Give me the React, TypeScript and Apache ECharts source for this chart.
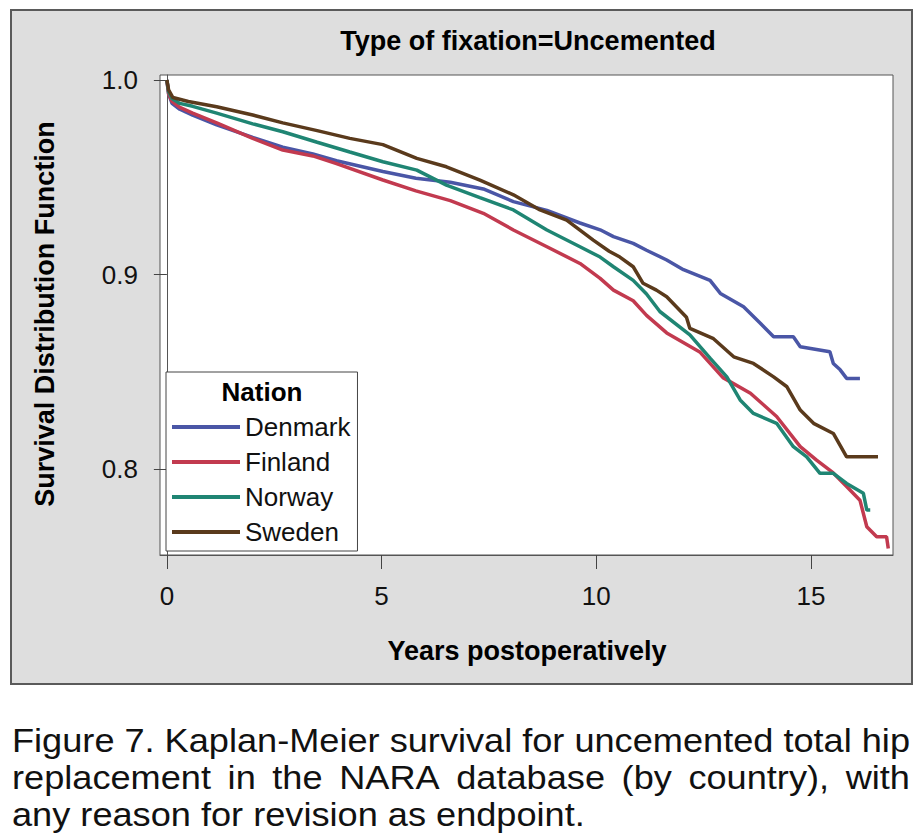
import React, { useEffect, useRef } from "react";
import * as echarts from "echarts";

const FONT = "'Liberation Sans', Arial, Helvetica, sans-serif";

const chartTitle = "Type of fixation=Uncemented";
const xAxisTitle = "Years postoperatively";
const yAxisTitle = "Survival Distribution Function";
const legendTitle = "Nation";
const nations = ["Denmark", "Finland", "Norway", "Sweden"];
const nationColors = ["#4a56a6", "#c23a4f", "#1f8573", "#5a3a1c"];
const xTicks = [0, 5, 10, 15];
const yTicks = [0.8, 0.9, 1.0];
const captionLines = [
  "Figure 7. Kaplan-Meier survival for uncemented total hip",
  "replacement in the NARA database (by country), with",
  "any reason for revision as endpoint.",
];

// [years, survival]
const denmark = [
  [0, 1.0], [0.04, 0.993], [0.12, 0.988], [0.3, 0.985], [0.6, 0.982], [1.16, 0.977],
  [2.0, 0.9705], [2.7, 0.9655], [3.4, 0.962], [3.95, 0.9585], [5.03, 0.953], [5.8, 0.9495],
  [6.6, 0.9475], [7.37, 0.944], [8.07, 0.9375], [8.85, 0.933], [9.62, 0.9265], [10.09, 0.923],
  [10.4, 0.9195], [10.86, 0.916], [11.17, 0.9125], [11.64, 0.9075], [12.03, 0.9025], [12.65, 0.897],
  [12.89, 0.8903], [13.43, 0.8834], [13.82, 0.875], [14.13, 0.868], [14.59, 0.868], [14.75, 0.8629],
  [15.44, 0.8603], [15.52, 0.8543], [15.68, 0.851], [15.83, 0.8466], [16.14, 0.8466],
];
const finland = [
  [0, 1.0], [0.04, 0.993], [0.12, 0.989], [0.3, 0.986], [0.6, 0.983], [1.16, 0.978],
  [2.0, 0.97], [2.7, 0.964], [3.4, 0.961], [3.95, 0.957], [5.03, 0.9486], [5.8, 0.943],
  [6.6, 0.938], [7.37, 0.9315], [8.07, 0.9229], [8.85, 0.9143], [9.62, 0.9057], [10.09, 0.898],
  [10.4, 0.892], [10.86, 0.8865], [11.17, 0.879], [11.64, 0.87], [12.42, 0.86], [12.95, 0.847],
  [13.59, 0.839], [14.2, 0.827], [14.75, 0.8115], [15.13, 0.8046], [15.52, 0.798], [15.83, 0.791],
  [16.14, 0.784], [16.3, 0.7703], [16.53, 0.7652], [16.76, 0.7652], [16.8, 0.7592],
];
const norway = [
  [0, 1.0], [0.04, 0.994], [0.12, 0.9905], [0.3, 0.988], [0.6, 0.9865], [1.16, 0.983],
  [2.0, 0.9775], [2.7, 0.9734], [3.5, 0.968], [4.26, 0.963], [5.03, 0.958], [5.82, 0.9537],
  [6.51, 0.946], [7.29, 0.9395], [8.07, 0.9332], [8.85, 0.9229], [9.62, 0.9143], [10.09, 0.909],
  [10.4, 0.904], [10.86, 0.897], [11.17, 0.89], [11.48, 0.881], [12.18, 0.869], [12.65, 0.857],
  [13.04, 0.8474], [13.35, 0.8355], [13.66, 0.8286], [14.2, 0.8235], [14.59, 0.8115], [14.9, 0.8063],
  [15.21, 0.7978], [15.52, 0.7978], [15.83, 0.7926], [16.22, 0.7875], [16.3, 0.7789], [16.38, 0.7789],
];
const sweden = [
  [0, 1.0], [0.04, 0.995], [0.14, 0.991], [0.5, 0.989], [1.16, 0.9863], [2.0, 0.982],
  [2.7, 0.978], [3.5, 0.974], [4.26, 0.97], [5.03, 0.9668], [5.82, 0.9597], [6.51, 0.9554],
  [7.29, 0.9486], [8.07, 0.941], [8.69, 0.9332], [9.31, 0.928], [9.93, 0.9177], [10.3, 0.912],
  [10.55, 0.909], [10.86, 0.904], [11.09, 0.8955], [11.4, 0.892], [11.64, 0.8886], [12.1, 0.878],
  [12.18, 0.8723], [12.73, 0.867], [13.2, 0.8577], [13.66, 0.8543], [14.13, 0.8474], [14.44, 0.8423],
  [14.75, 0.8303], [15.06, 0.8235], [15.52, 0.8183], [15.83, 0.8063], [16.56, 0.8063],
];
const seriesData = [denmark, finland, norway, sweden];

function buildCaption(): any[] {
  const fontSize = 33;
  const canvas = document.createElement("canvas");
  const ctx = canvas.getContext("2d") as CanvasRenderingContext2D;
  ctx.font = `${fontSize}px ${FONT}`;
  const w = (s: string) => ctx.measureText(s).width;
  const left = 12;
  const fullWidth = 898;
  const lastWidth = 573;
  const sx = lastWidth / w(captionLines[2]);
  const ys = [741, 778, 815];
  const els: any[] = [];
  captionLines.forEach((line, i) => {
    if (i === captionLines.length - 1) {
      els.push({
        type: "text", x: left, y: ys[i], scaleX: sx, originX: 0, originY: 0,
        style: { text: line, x: 0, y: 0, fill: "#111", font: `${fontSize}px ${FONT}`, align: "left", verticalAlign: "middle" },
      });
      return;
    }
    const words = line.split(" ");
    const widths = words.map((t) => w(t) * sx);
    const total = widths.reduce((a, b) => a + b, 0);
    const gap = (fullWidth - total) / (words.length - 1);
    let x = left;
    words.forEach((word, j) => {
      els.push({
        type: "text", x, y: ys[i], scaleX: sx, originX: 0, originY: 0,
        style: { text: word, x: 0, y: 0, fill: "#111", font: `${fontSize}px ${FONT}`, align: "left", verticalAlign: "middle" },
      });
      x += widths[j] + gap;
    });
  });
  return els;
}

export default function App() {
  const ref = useRef<HTMLDivElement>(null);
  useEffect(() => {
    if (!ref.current) return;
    const chart = echarts.init(ref.current, null, { renderer: "svg" });
    const graphic: any[] = [
      {
        type: "rect", z: -10, shape: { x: 11, y: 10, width: 901, height: 674 },
        style: { fill: "#dedede", stroke: "#5a5a5a", lineWidth: 2 },
      },
      {
        type: "text", x: 528, y: 41, z: 50,
        style: { text: chartTitle, fill: "#000", font: `bold 27px ${FONT}`, align: "center", verticalAlign: "middle" },
      },
      {
        type: "text", x: 527, y: 651, z: 50,
        style: { text: xAxisTitle, fill: "#000", font: `bold 27px ${FONT}`, align: "center", verticalAlign: "middle" },
      },
      {
        type: "text", x: 45, y: 314, rotation: Math.PI / 2, z: 50,
        style: { text: yAxisTitle, fill: "#000", font: `bold 27px ${FONT}`, align: "center", verticalAlign: "middle" },
      },
      {
        type: "text", x: 262, y: 392, z: 100,
        style: { text: legendTitle, fill: "#000", font: `bold 26px ${FONT}`, align: "center", verticalAlign: "middle" },
      },
      ...buildCaption(),
    ];
    chart.setOption({
      animation: false,
      textStyle: { fontFamily: FONT },
      grid: {
        left: 160, top: 75, right: 31, bottom: 285,
        show: true, backgroundColor: "#ffffff", borderColor: "#555", borderWidth: 1,
      },
      xAxis: {
        type: "value", min: -0.16, max: 16.91,
        axisLine: { show: true, lineStyle: { color: "#555", width: 1 } },
        axisTick: { show: true, customValues: xTicks, length: 14, lineStyle: { color: "#444" } },
        axisLabel: { customValues: xTicks, margin: 28, fontSize: 26, color: "#111", fontFamily: FONT, formatter: (v: number) => String(v) },
        splitLine: { show: false },
      },
      yAxis: {
        type: "value", min: 0.7558, max: 1.0026,
        axisLine: { show: true, lineStyle: { color: "#555", width: 1 } },
        axisTick: { show: true, customValues: yTicks, length: 13, lineStyle: { color: "#444" } },
        axisLabel: { customValues: yTicks, margin: 22, fontSize: 26, color: "#111", fontFamily: FONT, formatter: (v: number) => v.toFixed(1) },
        splitLine: { show: false },
      },
      legend: {
        orient: "vertical", left: 166, top: 372,
        padding: [41, 7, 5, 6], itemWidth: 68, itemHeight: 4, itemGap: 7, icon: "rect",
        borderColor: "#444", borderWidth: 1, backgroundColor: "#fff", borderRadius: 0,
        textStyle: { fontSize: 26, lineHeight: 28, color: "#111", fontFamily: FONT },
        data: nations,
      },
      graphic,
      series: nations.map((n, i) => ({
        name: n, type: "line", data: seriesData[i], showSymbol: false, symbol: "none",
        color: nationColors[i], lineStyle: { width: 3.5, color: nationColors[i] },
        clip: true,
      })),
    });
    return () => chart.dispose();
  }, []);
  return <div ref={ref} style={{ position: "absolute", left: 0, top: 0, width: 924, height: 840 }} />;
}
